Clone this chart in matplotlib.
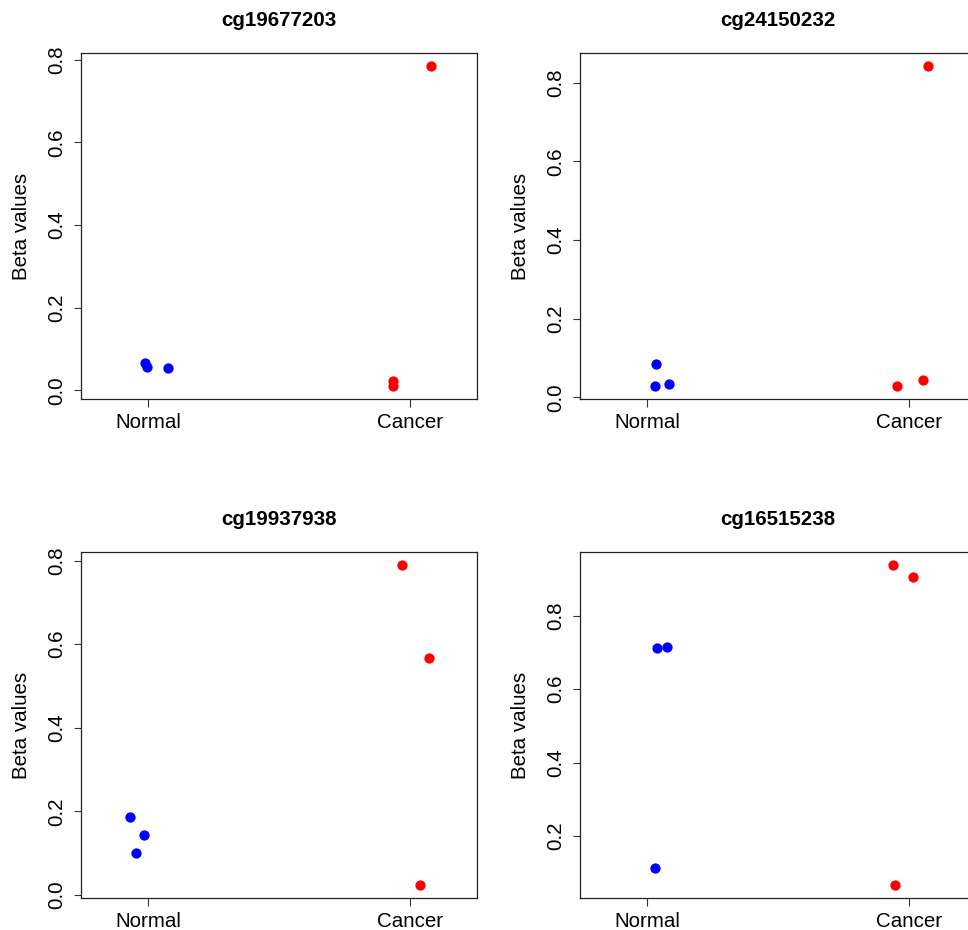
import numpy as np
import matplotlib.pyplot as plt

plt.rcParams['font.family'] = ['Liberation Sans', 'DejaVu Sans']

groups = ["Normal", "Cancer"]
probes = ["cg19677203", "cg24150232", "cg19937938", "cg16515238"]

# beta values per probe
normal_vals = [
    [0.067, 0.057, 0.055],
    [0.085, 0.028, 0.034],
    [0.186, 0.143, 0.100],
    [0.711, 0.715, 0.113],
]
cancer_vals = [
    [0.022, 0.010, 0.785],
    [0.029, 0.044, 0.843],
    [0.790, 0.568, 0.023],
    [0.939, 0.906, 0.066],
]
# horizontal jitter of the points (group units)
normal_jit = [
    [0.990, 0.995, 1.078],
    [1.036, 1.032, 1.082],
    [0.930, 0.986, 0.954],
    [1.038, 1.075, 1.032],
]
cancer_jit = [
    [1.936, 1.936, 2.080],
    [1.956, 2.055, 2.074],
    [1.968, 2.074, 2.037],
    [1.939, 2.014, 1.947],
]
yticks = [
    [0.0, 0.2, 0.4, 0.6, 0.8],
    [0.0, 0.2, 0.4, 0.6, 0.8],
    [0.0, 0.2, 0.4, 0.6, 0.8],
    [0.2, 0.4, 0.6, 0.8],
]

W, H = 968, 930
fig = plt.figure(figsize=(W / 100, H / 100), dpi=100)

lefts = [81, 580, 81, 580]
tops = [53, 53, 552, 552]
pw, ph = 396, 346

for k in range(4):
    ax = fig.add_axes([lefts[k] / W, 1 - (tops[k] + ph) / H, pw / W, ph / H])
    ax.plot(normal_jit[k], normal_vals[k], "o", color="blue", ms=7.4, mew=0)
    ax.plot(cancer_jit[k], cancer_vals[k], "o", color="red", ms=7.4, mew=0)
    ax.set_xlim(0.744, 2.256)
    ax.margins(y=0.04)
    ax.set_xticks([1, 2])
    ax.set_xticklabels(groups)
    ax.set_yticks(yticks[k])
    ax.set_yticklabels(["%.1f" % v for v in yticks[k]], rotation=90, va="center")
    ax.tick_params(axis="both", length=5.4, width=0.8, labelsize=14.8, color="#333333")
    ax.tick_params(axis="y", pad=5)
    ax.tick_params(axis="x", pad=5)
    for s in ax.spines.values():
        s.set_linewidth(0.9)
        s.set_color("#222222")
    ax.set_ylabel("Beta values", fontsize=14.8)
    ax.yaxis.set_label_coords(-0.125, 0.5)
    ax.text(0.5, 1.095, probes[k], transform=ax.transAxes, ha="center",
            va="center", fontsize=14.8, fontweight="bold")

fig.savefig("out.png", dpi=100)
